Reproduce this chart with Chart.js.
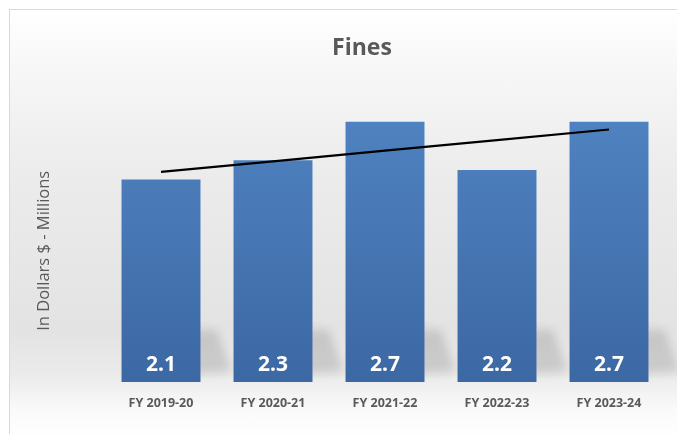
<!DOCTYPE html>
<html>
<head>
<meta charset="utf-8">
<script src="https://cdn.jsdelivr.net/npm/chart.js@4.4.1/dist/chart.umd.min.js"></script>
<style>
  html, body { margin: 0; padding: 0; background: #fff; }
  #wrap { position: relative; width: 677px; height: 434px; overflow: hidden; }
  #frame {
    position: absolute; left: 9px; top: 9px; width: 700px; height: 460px;
    border: 1px solid #d9d9d9;
    background: linear-gradient(to bottom, #ffffff 0px, #f7f7f7 60px, #ececec 160px, #e3e3e3 320px, #ebebeb 365px, #fafafa 400px, #ffffff 430px);
  }
  canvas { position: absolute; left: 0; top: 0; }
</style>
</head>
<body>
<div id="wrap">
  <div id="frame"></div>
  <canvas id="finesChart" width="677" height="434"></canvas>
</div>
<script>
const fiscalYears = ['FY 2019-20', 'FY 2020-21', 'FY 2021-22', 'FY 2022-23', 'FY 2023-24'];
const finesMillions = [2.1, 2.3, 2.7, 2.2, 2.7];
const yAxisTitle = 'In Dollars $ - Millions';

// least-squares trend over the bar values
function linearTrend(values) {
    const n = values.length;
    const xs = values.map((_, i) => i + 1);
    const mx = xs.reduce((a, b) => a + b, 0) / n;
    const my = values.reduce((a, b) => a + b, 0) / n;
    let num = 0, den = 0;
    xs.forEach((x, i) => { num += (x - mx) * (values[i] - my); den += (x - mx) * (x - mx); });
    const slope = num / den;
    return xs.map(x => my + slope * (x - mx));
}
const trendValues = linearTrend(finesMillions);

const textGray = '#595959';

// soft slanted shadow behind each bar
const barShadows = {
    id: 'barShadows',
    beforeDatasetsDraw(chart) {
        const ctx = chart.ctx;
        const meta = chart.getDatasetMeta(1);
        ctx.save();
        ctx.filter = 'blur(5px)';
        ctx.fillStyle = 'rgba(0,0,0,0.13)';
        meta.data.forEach(bar => {
            const half = bar.width / 2;
            const r = bar.x + half;
            const b = bar.base;
            ctx.beginPath();
            ctx.moveTo(bar.x, b - 52);
            ctx.lineTo(r + 16, b - 52);
            ctx.lineTo(r + 32, b - 10);
            ctx.lineTo(bar.x, b - 6);
            ctx.closePath();
            ctx.fill();
        });
        ctx.restore();
    }
};

// value printed inside the foot of each bar
const barValueLabels = {
    id: 'barValueLabels',
    afterDatasetsDraw(chart) {
        const ctx = chart.ctx;
        const meta = chart.getDatasetMeta(1);
        ctx.save();
        ctx.fillStyle = '#ffffff';
        ctx.font = 'bold 21px "Open Sans", sans-serif';
        ctx.textAlign = 'center';
        ctx.textBaseline = 'middle';
        meta.data.forEach((bar, i) => {
            ctx.fillText(finesMillions[i].toFixed(1), bar.x, bar.base - 17);
        });
        ctx.restore();
    }
};

// rotated value-axis caption on the left
const sideTitle = {
    id: 'sideTitle',
    afterDraw(chart) {
        const ctx = chart.ctx;
        const area = chart.chartArea;
        ctx.save();
        ctx.translate(44, (area.top + area.bottom) / 2 + 23);
        ctx.rotate(-Math.PI / 2);
        ctx.fillStyle = textGray;
        ctx.font = '16.5px "Open Sans", sans-serif';
        ctx.textAlign = 'center';
        ctx.textBaseline = 'middle';
        ctx.fillText(yAxisTitle, 0, 0);
        ctx.restore();
    }
};

const ctx = document.getElementById('finesChart').getContext('2d');
const barFill = ctx.createLinearGradient(0, 120, 0, 381);
barFill.addColorStop(0, '#4f82c0');
barFill.addColorStop(1, '#3c68a4');

new Chart(ctx, {
    type: 'bar',
    data: {
        labels: fiscalYears,
        datasets: [
            {
                type: 'line',
                label: 'Trend',
                data: trendValues,
                borderColor: '#000000',
                borderWidth: 2.2,
                pointRadius: 0,
                fill: false,
                tension: 0,
                order: 0
            },
            {
                label: 'Fines',
                data: finesMillions,
                backgroundColor: barFill,
                borderWidth: 0,
                categoryPercentage: 1,
                barPercentage: 0.705,
                order: 1
            }
        ]
    },
    options: {
        responsive: false,
        animation: false,
        layout: { padding: { left: 59, right: 12, top: 25, bottom: 17 } },
        plugins: {
            legend: { display: false },
            tooltip: { enabled: false },
            title: {
                display: true,
                text: 'Fines',
                color: textGray,
                font: { family: '"Open Sans", sans-serif', size: 23, weight: 'bold' },
                padding: { top: 10, bottom: 11 }
            }
        },
        scales: {
            x: {
                grid: { display: false },
                border: { display: false },
                ticks: {
                    color: textGray,
                    padding: 6,
                    font: { family: '"Open Sans", sans-serif', size: 12.5, weight: 'bold' }
                }
            },
            y: {
                min: 0,
                max: 3.2,
                grid: { display: false },
                border: { display: false },
                ticks: { display: false },
                // empty gutter reserved for the rotated caption
                afterFit(scale) { scale.width = 46; }
            }
        }
    },
    plugins: [barShadows, barValueLabels, sideTitle]
});
</script>
</body>
</html>
